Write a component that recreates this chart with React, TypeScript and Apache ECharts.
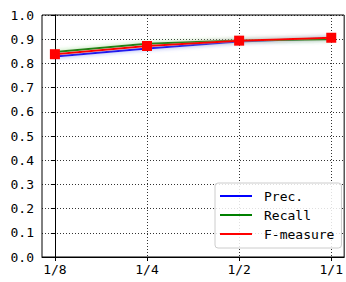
import React, { useEffect, useRef } from "react";
import * as echarts from "echarts";

const categories = ["1/8", "1/4", "1/2", "1/1"];
const precision = [0.829, 0.862, 0.890, 0.905];
const recall = [0.847, 0.881, 0.895, 0.900];
const fMeasure = [0.838, 0.872, 0.894, 0.906];
const yTicks = [0, 0.1, 0.2, 0.3, 0.4, 0.5, 0.6, 0.7, 0.8, 0.9, 1.0];

const FONT = "DejaVu Sans Mono";

export default function App() {
  const ref = useRef<HTMLDivElement>(null);
  useEffect(() => {
    if (!ref.current) return;
    const chart = echarts.init(ref.current, null, { renderer: "svg" });
    const toPts = (arr: number[]) => arr.map((v, i) => [i, v]);
    const mk = (name: string, color: string, halo: string, data: number[], z: number, marker: boolean) => ({
      name,
      type: "line",
      data: toPts(data),
      z,
      symbol: marker ? "rect" : "none",
      symbolSize: 10,
      showSymbol: marker,
      itemStyle: { color },
      lineStyle: { color, width: 2, shadowBlur: 4, shadowColor: halo },
    });
    chart.setOption({
      animation: false,
      textStyle: { fontFamily: FONT },
      grid: {
        left: 42, right: 1, top: 15, bottom: 25, containLabel: false,
        show: true, borderColor: "#000", borderWidth: 1, backgroundColor: "transparent",
      },
      xAxis: {
        type: "value",
        min: -0.14,
        max: 3.14,
        axisLine: { show: true, lineStyle: { color: "#000", width: 1 } },
        axisTick: { show: true, length: 4, lineStyle: { color: "#000" }, customValues: [0, 1, 2, 3] },
        axisLabel: {
          customValues: [0, 1, 2, 3],
          formatter: (v: number) => categories[Math.round(v)] ?? "",
          color: "#000", fontSize: 13, fontFamily: FONT, margin: 6,
        },
        splitLine: { show: true, lineStyle: { color: "rgba(0,0,0,0.8)", type: [1, 2], width: 1 } },
      },
      yAxis: {
        type: "value",
        min: 0,
        max: 1,
        interval: 0.1,
        axisLine: { show: true, lineStyle: { color: "#000", width: 1 } },
        axisTick: { show: true, length: 4, lineStyle: { color: "#000" } },
        axisLabel: {
          formatter: (v: number) => {
            const t = yTicks.find((x) => Math.abs(x - v) < 1e-6);
            return (t ?? v).toFixed(1);
          },
          color: "#000", fontSize: 13, fontFamily: FONT, margin: 8,
        },
        splitLine: { show: true, lineStyle: { color: "rgba(0,0,0,0.8)", type: [1, 2], width: 1 } },
      },
      legend: {
        orient: "vertical",
        left: 215,
        top: 183,
        padding: [6, 7, 7, 5],
        itemWidth: 32,
        itemHeight: 2,
        itemGap: 5,
        icon: "rect",
        backgroundColor: "rgba(255,255,255,0.85)",
        borderColor: "#cccccc",
        borderWidth: 1,
        borderRadius: 3,
        textStyle: { color: "#000", fontSize: 13, fontFamily: FONT, lineHeight: 14, padding: [0, 0, 0, 7] },
        data: ["Prec.", "Recall", "F-measure"],
      },
      series: [
        mk("Prec.", "#0000ff", "rgba(100,130,255,0.8)", precision, 2, false),
        mk("Recall", "#008000", "rgba(120,230,120,0.8)", recall, 3, false),
        mk("F-measure", "#ff0000", "rgba(255,140,140,0.6)", fMeasure, 4, true),
      ],
    });
    return () => chart.dispose();
  }, []);
  return <div ref={ref} style={{ width: 346, height: 282, position: "absolute", left: 0, top: 0 }} />;
}
